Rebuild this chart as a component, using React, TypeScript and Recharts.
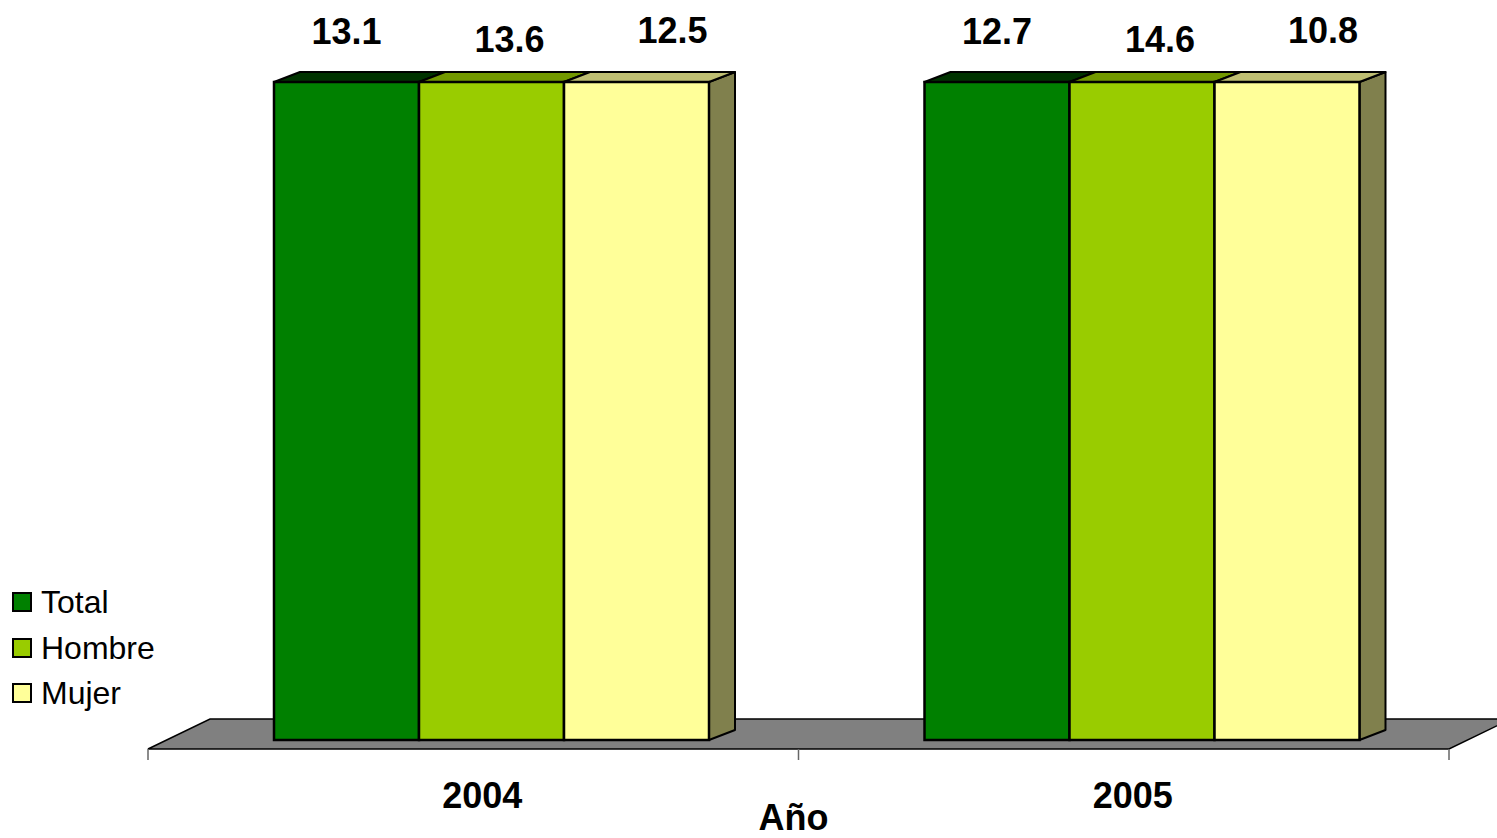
import { BarChart, Bar, XAxis, YAxis, LabelList, Legend, Customized } from 'recharts';

const years = ['2004', '2005'];
const total = [13.1, 12.7];
const hombre = [13.6, 14.6];
const mujer = [12.5, 10.8];
// the value axis of the original stops below every value, so all bars reach the top
const AXIS_MAX = 10;

const data = years.map((year, i) => ({ year, total: total[i], hombre: hombre[i], mujer: mujer[i] }));

const W = 1497;
const H = 838;
const MARGIN = { top: 82, right: 30, left: 166, bottom: 68 };
const XAXIS_H = 30;
const PLOT_LEFT = MARGIN.left;
const PLOT_RIGHT = W - MARGIN.right;
const PLOT_BOTTOM = H - MARGIN.bottom - XAXIS_H;
const DEPTH_X = 26;
const DEPTH_Y = 10;
const FONT = 'Arial, "Liberation Sans", sans-serif';

const series = [
  { key: 'total', name: 'Total', front: '#008000', top: '#003300', side: '#004d00', labelDx: 0, labelDy: -38 },
  { key: 'hombre', name: 'Hombre', front: '#99CC00', top: '#739900', side: '#4d6600', labelDx: 18, labelDy: -30 },
  { key: 'mujer', name: 'Mujer', front: '#FFFF99', top: '#BFBF73', side: '#80804D', labelDx: 36, labelDy: -39 },
];

type S = (typeof series)[number];

const makeBox = (s: S) => (props: any) => {
  const { x, y, width: w, height: h } = props;
  return (
    <g>
      <polygon
        points={`${x + w},${y} ${x + w + DEPTH_X},${y - DEPTH_Y} ${x + w + DEPTH_X},${y + h - DEPTH_Y} ${x + w},${y + h}`}
        fill={s.side}
        stroke="#000"
        strokeWidth={2}
        strokeLinejoin="round"
      />
      <polygon
        points={`${x},${y} ${x + DEPTH_X},${y - DEPTH_Y} ${x + w + DEPTH_X},${y - DEPTH_Y} ${x + w},${y}`}
        fill={s.top}
        stroke="#000"
        strokeWidth={2}
        strokeLinejoin="round"
      />
      <rect x={x} y={y} width={w} height={h} fill={s.front} stroke="#000" strokeWidth={2.5} />
    </g>
  );
};

const makeLabel = (s: S) => (props: any) => {
  const { x, y, width, value } = props;
  return (
    <text
      x={x + width / 2 + s.labelDx}
      y={y + s.labelDy}
      textAnchor="middle"
      fontSize={36}
      fontWeight="bold"
      fontFamily={FONT}
      fill="#000"
    >
      {Number(value).toFixed(1)}
    </text>
  );
};

function Floor() {
  const band = (PLOT_RIGHT - PLOT_LEFT) / years.length;
  const fx = -18;
  const fy = 9;
  const bx = 44;
  const by = -21;
  const ticks = Array.from({ length: years.length + 1 }, (_, i) => PLOT_LEFT + fx + i * band);
  return (
    <g>
      <polygon
        points={`${PLOT_LEFT + fx},${PLOT_BOTTOM + fy} ${PLOT_LEFT + bx},${PLOT_BOTTOM + by} ${PLOT_RIGHT + bx},${PLOT_BOTTOM + by} ${PLOT_RIGHT + fx},${PLOT_BOTTOM + fy}`}
        fill="#808080"
        stroke="#000"
        strokeWidth={1.5}
      />
      {ticks.map((tx) => (
        <line key={tx} x1={tx} x2={tx} y1={PLOT_BOTTOM + fy} y2={PLOT_BOTTOM + fy + 11} stroke="#666" strokeWidth={1.5} />
      ))}
      <text
        x={(PLOT_LEFT + PLOT_RIGHT) / 2 + fx - 5}
        y={PLOT_BOTTOM + 90}
        textAnchor="middle"
        fontSize={36}
        fontWeight="bold"
        fontFamily={FONT}
        fill="#000"
      >
        Año
      </text>
    </g>
  );
}

const renderLegend = () => (
  <div style={{ position: 'relative', width: 0, height: 0 }}>
    {series.map((s, i) => (
      <div
        key={s.key}
        style={{
          position: 'absolute',
          left: 12,
          top: 584 + i * 45.5,
          display: 'flex',
          alignItems: 'center',
          whiteSpace: 'nowrap',
          fontFamily: FONT,
          fontSize: 32,
          lineHeight: '36px',
          color: '#000',
        }}
      >
        <span
          style={{
            display: 'inline-block',
            width: 16,
            height: 16,
            background: s.front,
            border: '2px solid #000',
            marginRight: 9,
          }}
        />
        {s.name}
      </div>
    ))}
  </div>
);

export default function App() {
  return (
    <div style={{ position: 'absolute', left: 0, top: 0, width: W, height: H, background: '#fff' }}>
      <BarChart width={W} height={H} data={data} margin={MARGIN} barCategoryGap={108} barGap={0}>
        <Customized component={Floor} />
        <XAxis
          dataKey="year"
          height={XAXIS_H}
          axisLine={false}
          tickLine={false}
          interval={0}
          tick={(p: any) => (
            <text
              x={p.x - 9}
              y={PLOT_BOTTOM + 68}
              textAnchor="middle"
              fontSize={36}
              fontWeight="bold"
              fontFamily={FONT}
              fill="#000"
            >
              {p.payload.value}
            </text>
          )}
        />
        <YAxis hide domain={[0, AXIS_MAX]} />
        <Legend
          content={renderLegend}
          wrapperStyle={{ left: 0, top: 0, width: 0, height: 0 }}
        />
        {series.map((s) => (
          <Bar
            key={s.key}
            dataKey={(d: any) => Math.min(d[s.key], AXIS_MAX)}
            name={s.name}
            shape={makeBox(s)}
            isAnimationActive={false}
          >
            <LabelList dataKey={s.key} content={makeLabel(s)} />
          </Bar>
        ))}
      </BarChart>
    </div>
  );
}
